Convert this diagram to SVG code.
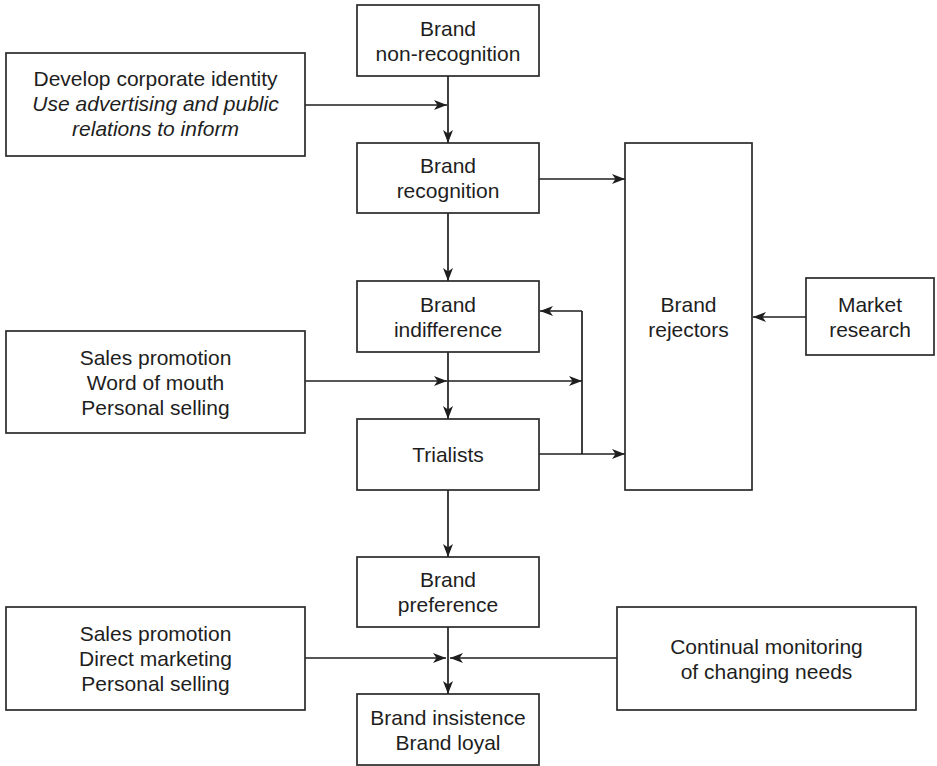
<svg xmlns="http://www.w3.org/2000/svg" width="937" height="766" viewBox="0 0 937 766">
  <defs>
    <marker id="arrow" markerUnits="userSpaceOnUse" markerWidth="13" markerHeight="11" refX="13" refY="5.5" orient="auto">
      <path d="M0,0.5 L13,5.5 L0,10.5 L3.5,5.5 Z" fill="#1e1e1e"/>
    </marker>
    <style>
      .box { fill: #ffffff; stroke: #2a2a2a; stroke-width: 1.7; }
      .lbl { font-family: "Liberation Sans", Arial, Helvetica, sans-serif; font-size: 21px; fill: #1e1e1e; text-anchor: middle; }
      .it { font-style: italic; }
      .wire { fill: none; stroke: #1e1e1e; stroke-width: 1.7; }
      .arr { marker-end: url(#arrow); }
    </style>
  </defs>
  <rect width="937" height="766" fill="#ffffff"/>

  <!-- connectors -->
  <g id="connectors">
    <line class="wire arr" x1="448" y1="76" x2="448" y2="143"/>
    <line class="wire arr" x1="305" y1="105" x2="447" y2="105"/>
    <line class="wire arr" x1="539" y1="179" x2="625" y2="179"/>
    <line class="wire arr" x1="448" y1="213" x2="448" y2="281"/>
    <line class="wire arr" x1="448" y1="352" x2="448" y2="419"/>
    <line class="wire arr" x1="305" y1="381" x2="447" y2="381"/>
    <line class="wire arr" x1="448" y1="381" x2="582" y2="381"/>
    <line class="wire" x1="582" y1="311" x2="582" y2="454"/>
    <line class="wire arr" x1="582" y1="311" x2="540" y2="311"/>
    <line class="wire arr" x1="539" y1="454" x2="625" y2="454"/>
    <line class="wire arr" x1="806" y1="317" x2="753" y2="317"/>
    <line class="wire arr" x1="448" y1="490" x2="448" y2="557"/>
    <line class="wire arr" x1="448" y1="627" x2="448" y2="694"/>
    <line class="wire arr" x1="305" y1="658" x2="446" y2="658"/>
    <line class="wire arr" x1="617" y1="658" x2="450" y2="658"/>
  </g>

  <g id="non-recognition">
    <rect class="box" x="357" y="5" width="182" height="71"/>
    <text class="lbl" x="448" y="36">Brand</text>
    <text class="lbl" x="448" y="61">non-recognition</text>
  </g>

  <g id="corporate-identity">
    <rect class="box" x="6" y="53" width="299" height="103"/>
    <text class="lbl" x="155.5" y="86">Develop corporate identity</text>
    <text class="lbl it" x="155.5" y="111">Use advertising and public</text>
    <text class="lbl it" x="155.5" y="136">relations to inform</text>
  </g>

  <g id="recognition">
    <rect class="box" x="357" y="143" width="182" height="70"/>
    <text class="lbl" x="448" y="173">Brand</text>
    <text class="lbl" x="448" y="198">recognition</text>
  </g>

  <g id="rejectors">
    <rect class="box" x="625" y="143" width="127" height="347"/>
    <text class="lbl" x="688.5" y="311.5">Brand</text>
    <text class="lbl" x="688.5" y="336.5">rejectors</text>
  </g>

  <g id="market-research">
    <rect class="box" x="806" y="278" width="128" height="77"/>
    <text class="lbl" x="870" y="311.5">Market</text>
    <text class="lbl" x="870" y="336.5">research</text>
  </g>

  <g id="indifference">
    <rect class="box" x="357" y="281" width="182" height="71"/>
    <text class="lbl" x="448" y="312">Brand</text>
    <text class="lbl" x="448" y="337">indifference</text>
  </g>

  <g id="promotion-trial">
    <rect class="box" x="6" y="331" width="299" height="102"/>
    <text class="lbl" x="155.5" y="364.5">Sales promotion</text>
    <text class="lbl" x="155.5" y="389.5">Word of mouth</text>
    <text class="lbl" x="155.5" y="414.5">Personal selling</text>
  </g>

  <g id="trialists">
    <rect class="box" x="357" y="419" width="182" height="71"/>
    <text class="lbl" x="448" y="462">Trialists</text>
  </g>

  <g id="preference">
    <rect class="box" x="357" y="557" width="182" height="70"/>
    <text class="lbl" x="448" y="587">Brand</text>
    <text class="lbl" x="448" y="612">preference</text>
  </g>

  <g id="promotion-loyalty">
    <rect class="box" x="6" y="607" width="299" height="103"/>
    <text class="lbl" x="155.5" y="641">Sales promotion</text>
    <text class="lbl" x="155.5" y="666">Direct marketing</text>
    <text class="lbl" x="155.5" y="691">Personal selling</text>
  </g>

  <g id="monitoring">
    <rect class="box" x="617" y="607" width="299" height="103"/>
    <text class="lbl" x="766.5" y="653.5">Continual monitoring</text>
    <text class="lbl" x="766.5" y="678.5">of changing needs</text>
  </g>

  <g id="insistence">
    <rect class="box" x="357" y="694" width="182" height="71"/>
    <text class="lbl" x="448" y="724.5">Brand insistence</text>
    <text class="lbl" x="448" y="749.5">Brand loyal</text>
  </g>
</svg>
